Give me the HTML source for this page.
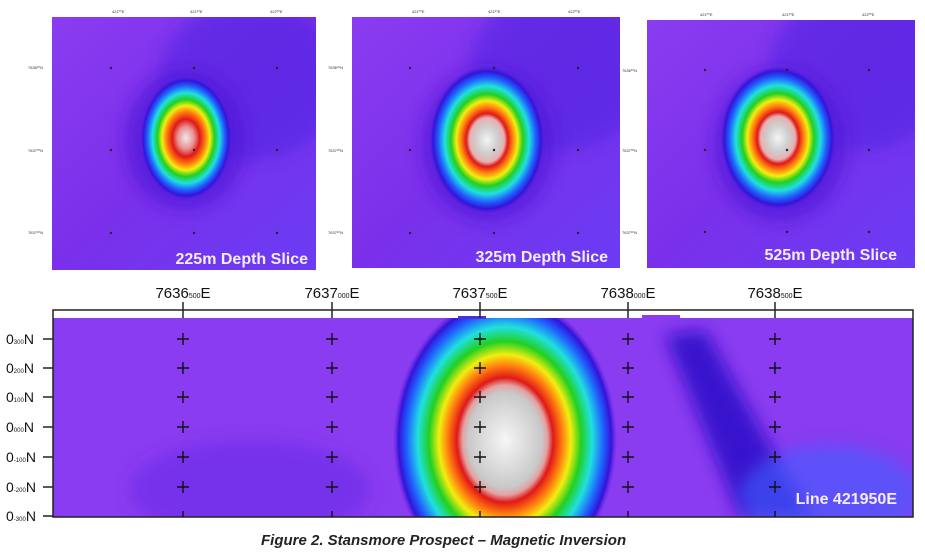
<!DOCTYPE html>
<html><head><meta charset="utf-8"><style>
html,body{margin:0;width:925px;height:556px;background:#fff;overflow:hidden}
svg{display:block;overflow:hidden}
</style></head><body>
<svg width="925" height="556" viewBox="0 0 925 556" xmlns="http://www.w3.org/2000/svg" font-family="Liberation Sans, sans-serif">
<defs>
<radialGradient id="an">
<stop offset="0" stop-color="#f4f4f4"/>
<stop offset="0.18" stop-color="#cfcfcf"/>
<stop offset="0.3" stop-color="#e6b0b0"/>
<stop offset="0.36" stop-color="#e01818"/>
<stop offset="0.44" stop-color="#ff7a10"/>
<stop offset="0.53" stop-color="#f2ee10"/>
<stop offset="0.62" stop-color="#22d020"/>
<stop offset="0.73" stop-color="#20e0e0"/>
<stop offset="0.84" stop-color="#2060ff"/>
<stop offset="0.93" stop-color="#3214d8"/>
<stop offset="1" stop-color="#5a22e4" stop-opacity="0"/>
</radialGradient>
<radialGradient id="an2">
<stop offset="0" stop-color="#f2e8e8"/>
<stop offset="0.18" stop-color="#e89090"/>
<stop offset="0.3" stop-color="#e01818"/>
<stop offset="0.42" stop-color="#ff7a10"/>
<stop offset="0.52" stop-color="#f2ee10"/>
<stop offset="0.62" stop-color="#22d020"/>
<stop offset="0.73" stop-color="#20e0e0"/>
<stop offset="0.84" stop-color="#2060ff"/>
<stop offset="0.93" stop-color="#3214d8"/>
<stop offset="1" stop-color="#5a22e4" stop-opacity="0"/>
</radialGradient>
<radialGradient id="anb">
<stop offset="0" stop-color="#f6f6f6"/>
<stop offset="0.25" stop-color="#d4d4d4"/>
<stop offset="0.33" stop-color="#c8c8c8"/>
<stop offset="0.38" stop-color="#e4a0a0"/>
<stop offset="0.43" stop-color="#e01818"/>
<stop offset="0.51" stop-color="#ff7a10"/>
<stop offset="0.59" stop-color="#f2ee10"/>
<stop offset="0.68" stop-color="#22d020"/>
<stop offset="0.78" stop-color="#20e0e0"/>
<stop offset="0.88" stop-color="#2060ff"/>
<stop offset="0.95" stop-color="#3214d8"/>
<stop offset="1" stop-color="#5a22e4" stop-opacity="0"/>
</radialGradient>
<linearGradient id="bgp" x1="0" y1="0" x2="1" y2="1">
<stop offset="0" stop-color="#8a3cf0"/>
<stop offset="0.5" stop-color="#7a30ea"/>
<stop offset="1" stop-color="#6a3cf4"/>
</linearGradient>
<filter id="bl" x="-20%" y="-20%" width="140%" height="140%"><feGaussianBlur stdDeviation="8"/></filter>
<clipPath id="c1"><rect x="52" y="17" width="264" height="253"/></clipPath>
<clipPath id="c2"><rect x="352" y="17" width="268" height="251"/></clipPath>
<clipPath id="c3"><rect x="647" y="20" width="268" height="248"/></clipPath>
<clipPath id="cb"><rect x="53" y="318" width="860" height="199"/></clipPath>
</defs>

<!-- Panel 1 -->
<g clip-path="url(#c1)">
<rect x="52" y="17" width="264" height="253" fill="url(#bgp)"/>
<ellipse cx="250" cy="80" rx="90" ry="80" fill="#4a20e0" opacity="0.5" filter="url(#bl)"/>
<ellipse cx="185" cy="140" rx="60" ry="70" fill="#5018d8" opacity="0.7" filter="url(#bl)"/>
<ellipse cx="186" cy="138" rx="46" ry="62" fill="url(#an2)"/>
</g>
<g font-size="4" fill="#333">
<text x="112" y="13">421⁰⁰E</text><text x="190" y="13">421⁵⁰E</text><text x="270" y="13">422⁰⁰E</text>
<text x="28" y="69">7636⁵⁰N</text><text x="28" y="152">7637⁰⁰N</text><text x="28" y="234">7637⁵⁰N</text>
</g>
<g fill="#222"><circle cx="111" cy="68" r="1.2"/><circle cx="194" cy="68" r="1.2"/><circle cx="277" cy="68" r="1.2"/><circle cx="111" cy="150" r="1.2"/><circle cx="194" cy="150" r="1.2"/><circle cx="277" cy="150" r="1.2"/><circle cx="111" cy="233" r="1.2"/><circle cx="194" cy="233" r="1.2"/><circle cx="277" cy="233" r="1.2"/></g>
<text x="308" y="264" text-anchor="end" font-weight="bold" font-size="16" fill="#f4ecff">225m Depth Slice</text>

<!-- Panel 2 -->
<g clip-path="url(#c2)">
<rect x="352" y="17" width="268" height="251" fill="url(#bgp)"/>
<ellipse cx="560" cy="70" rx="90" ry="80" fill="#4a20e0" opacity="0.5" filter="url(#bl)"/>
<ellipse cx="488" cy="145" rx="66" ry="76" fill="#5018d8" opacity="0.7" filter="url(#bl)"/>
<ellipse cx="487" cy="140" rx="58" ry="74" fill="url(#an)"/>
</g>
<g font-size="4" fill="#333">
<text x="412" y="13">421⁰⁰E</text><text x="488" y="13">421⁵⁰E</text><text x="568" y="13">422⁰⁰E</text>
<text x="328" y="69">7636⁵⁰N</text><text x="328" y="152">7637⁰⁰N</text><text x="328" y="234">7637⁵⁰N</text>
</g>
<g fill="#222"><circle cx="410" cy="68" r="1.2"/><circle cx="494" cy="68" r="1.2"/><circle cx="578" cy="68" r="1.2"/><circle cx="410" cy="150" r="1.2"/><circle cx="494" cy="150" r="1.2"/><circle cx="578" cy="150" r="1.2"/><circle cx="410" cy="233" r="1.2"/><circle cx="494" cy="233" r="1.2"/><circle cx="578" cy="233" r="1.2"/></g>
<text x="608" y="262" text-anchor="end" font-weight="bold" font-size="16" fill="#f4ecff">325m Depth Slice</text>

<!-- Panel 3 -->
<g clip-path="url(#c3)">
<rect x="647" y="20" width="268" height="248" fill="url(#bgp)"/>
<ellipse cx="860" cy="70" rx="90" ry="80" fill="#4a20e0" opacity="0.5" filter="url(#bl)"/>
<ellipse cx="780" cy="145" rx="66" ry="76" fill="#5018d8" opacity="0.7" filter="url(#bl)"/>
<ellipse cx="778" cy="138" rx="58" ry="72" fill="url(#an)"/>
</g>
<g font-size="4" fill="#333">
<text x="700" y="16">421⁰⁰E</text><text x="782" y="16">421⁵⁰E</text><text x="862" y="16">422⁰⁰E</text>
<text x="622" y="72">7636⁵⁰N</text><text x="622" y="152">7637⁰⁰N</text><text x="622" y="234">7637⁵⁰N</text>
</g>
<g fill="#222"><circle cx="705" cy="70" r="1.2"/><circle cx="787" cy="70" r="1.2"/><circle cx="869" cy="70" r="1.2"/><circle cx="705" cy="150" r="1.2"/><circle cx="787" cy="150" r="1.2"/><circle cx="869" cy="150" r="1.2"/><circle cx="705" cy="232" r="1.2"/><circle cx="787" cy="232" r="1.2"/><circle cx="869" cy="232" r="1.2"/></g>
<text x="897" y="260" text-anchor="end" font-weight="bold" font-size="16" fill="#f4ecff">525m Depth Slice</text>

<!-- Bottom section -->
<g clip-path="url(#cb)">
<rect x="53" y="318" width="860" height="199" fill="#8a3cf0"/>
<ellipse cx="250" cy="490" rx="120" ry="50" fill="#6a2ae8" opacity="0.6" filter="url(#bl)"/>
<polygon points="665,335 705,330 810,517 740,517" fill="#2a10c8" opacity="0.85" filter="url(#bl)"/>
<ellipse cx="830" cy="495" rx="90" ry="50" fill="#4060ff" opacity="0.6" filter="url(#bl)"/>
<ellipse cx="505" cy="440" rx="112" ry="145" fill="url(#anb)"/>
</g>
<rect x="53" y="310" width="860" height="207" fill="none" stroke="#222" stroke-width="1.5"/>
<rect x="458" y="316" width="28" height="3" fill="#5030d0"/>
<rect x="642" y="315" width="38" height="3" fill="#8a3cf0"/>

<g font-size="15" fill="#111" text-anchor="middle">
<text x="183" y="298">7636<tspan font-size="7">500</tspan>E</text>
<text x="332" y="298">7637<tspan font-size="7">000</tspan>E</text>
<text x="480" y="298">7637<tspan font-size="7">500</tspan>E</text>
<text x="628" y="298">7638<tspan font-size="7">000</tspan>E</text>
<text x="775" y="298">7638<tspan font-size="7">500</tspan>E</text>
</g>
<g stroke="#222" stroke-width="1.5">
<line x1="183" y1="302" x2="183" y2="318"/><line x1="332" y1="302" x2="332" y2="318"/><line x1="480" y1="302" x2="480" y2="318"/><line x1="628" y1="302" x2="628" y2="318"/><line x1="775" y1="302" x2="775" y2="318"/>
<line x1="43" y1="339" x2="53" y2="339"/><line x1="43" y1="368" x2="53" y2="368"/><line x1="43" y1="397" x2="53" y2="397"/><line x1="43" y1="427" x2="53" y2="427"/><line x1="43" y1="457" x2="53" y2="457"/><line x1="43" y1="487" x2="53" y2="487"/><line x1="43" y1="516" x2="53" y2="516"/>
</g>
<g font-size="14" fill="#111">
<text x="6" y="344">0<tspan font-size="6">300</tspan>N</text>
<text x="6" y="373">0<tspan font-size="6">200</tspan>N</text>
<text x="6" y="402">0<tspan font-size="6">100</tspan>N</text>
<text x="6" y="432">0<tspan font-size="6">000</tspan>N</text>
<text x="6" y="462">0<tspan font-size="6">-100</tspan>N</text>
<text x="6" y="492">0<tspan font-size="6">-200</tspan>N</text>
<text x="6" y="521">0<tspan font-size="6">-300</tspan>N</text>
</g>
<g stroke="#111" stroke-width="1.4">
<path d="M177 339h12M183 333v12M326 339h12M332 333v12M474 339h12M480 333v12M622 339h12M628 333v12M769 339h12M775 333v12"/>
<path d="M177 368h12M183 362v12M326 368h12M332 362v12M474 368h12M480 362v12M622 368h12M628 362v12M769 368h12M775 362v12"/>
<path d="M177 397h12M183 391v12M326 397h12M332 391v12M474 397h12M480 391v12M622 397h12M628 391v12M769 397h12M775 391v12"/>
<path d="M177 427h12M183 421v12M326 427h12M332 421v12M474 427h12M480 421v12M622 427h12M628 421v12M769 427h12M775 421v12"/>
<path d="M177 457h12M183 451v12M326 457h12M332 451v12M474 457h12M480 451v12M622 457h12M628 451v12M769 457h12M775 451v12"/>
<path d="M177 487h12M183 481v12M326 487h12M332 481v12M474 487h12M480 481v12M622 487h12M628 481v12M769 487h12M775 481v12"/>
<path d="M183 511v6M332 511v6M480 511v6M628 511v6M775 511v6"/>
</g>
<text x="897" y="504" text-anchor="end" font-weight="bold" font-size="16" fill="#f4ecff">Line 421950E</text>
<text x="261" y="545" font-weight="bold" font-style="italic" font-size="15" fill="#222">Figure 2. Stansmore Prospect – Magnetic Inversion</text>
</svg>
</body></html>
